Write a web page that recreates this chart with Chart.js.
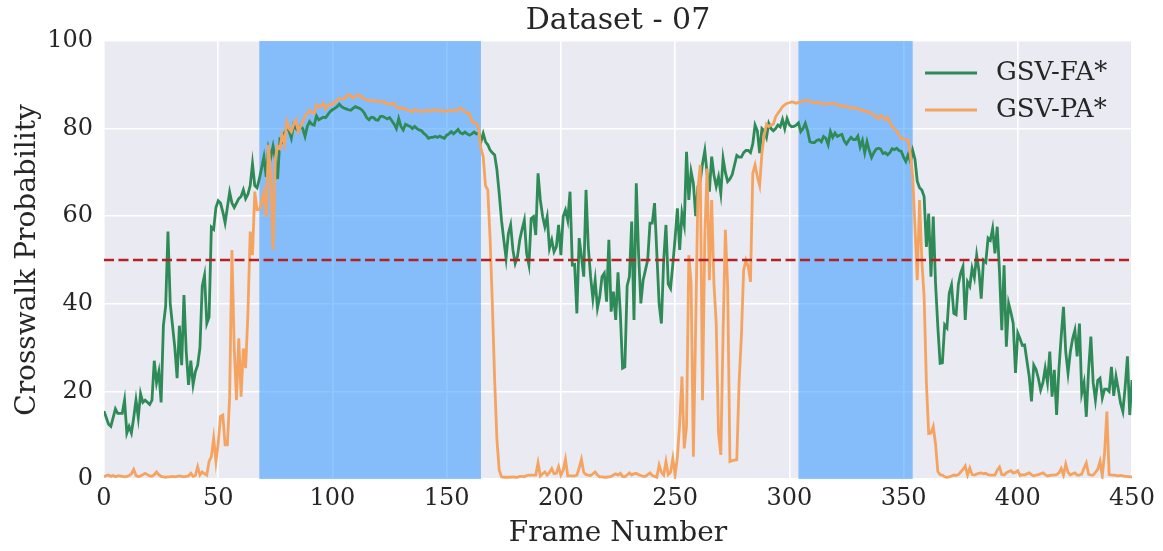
<!DOCTYPE html>
<html><head><meta charset="utf-8">
<script src="https://cdn.jsdelivr.net/npm/chart.js@4"></script>
<style>html,body{margin:0;padding:0;background:#fff;overflow:hidden;}</style>
</head><body>
<canvas id="c" width="1163" height="551"></canvas>
<script>
const chartTitle = 'Dataset - 07';
const xTitle = 'Frame Number';
const yTitle = 'Crosswalk Probability';
const seriesNames = ['GSV-FA*', 'GSV-PA*'];
const thresholdValue = 50;
const highlightSpans = [[68, 165], [304, 354]];

const gsvFA = [
15.5,14,12.5,12,14,16,15,15,15,18,
10.5,12,10.5,14,18,14,19.5,17.5,18,17.5,
17,18,27,22,24.5,17.5,35,39.5,56.5,40,
35,30,23,35,26,42,29,21.5,27,21.5,
24.5,26,30,44,46.5,35.5,37,57.5,57,62,
63.5,63,61,58.5,62,65.5,63,62,63,64,
64.5,66,64,65,67,72,67,66.5,68.5,71,
73.5,69,75.5,73.5,76,73,68.5,77.5,77,79,
80,79.5,77.8,80.8,80,79.5,80.5,80,78.2,80.5,
81.6,81,80.8,82.9,82,82.3,82.6,82.5,83.2,83.9,
84.3,84.6,85,85.6,85,84.7,84.5,84.3,84.2,84.6,
85,84.8,84.6,84.2,83.5,82.5,82,82.6,82.5,82,
81.9,82.8,82.8,82.5,82.2,82.5,81.8,81,80,82.3,
80.5,79.7,81,80.7,80.5,80,80.5,80,79.7,79.5,
78.9,78.5,77.8,78,78,78.2,78,78.3,78,77.8,
78.5,78.8,79.3,78.8,79.3,79.8,79,78.8,79.2,78.8,
78.5,78.8,79.2,78.8,79,77,78.9,77,76.3,75.1,
74.5,74,70.6,65.2,59.1,54.6,50.4,56,58,52.3,
49.2,50.8,54.6,57,59.1,51.5,48.9,59.5,59.9,55.7,
69.8,63.7,60,57.6,59.9,52.7,54.6,51.9,53,58,
51.1,59.9,61.4,59.1,65.6,48.9,49,37.8,55,50.8,
46.2,66,53,46.2,41.2,45.4,39,41.6,46.2,47,
40.5,54.6,38.2,42.8,36.3,47.2,38,25.3,25.6,44.1,
46.2,58.8,36.3,67.5,51.5,40.1,45.4,47.7,50,58.4,
58.4,63,51.5,40,35.5,50,58,44.5,43.5,49,
55,61.8,52.3,60.7,58,74.7,63.7,70.2,67.5,60,
66.8,68,72,75,69.8,65.6,73.6,69.4,66.8,69,
65.2,73.2,70,67.9,68.5,69.5,71.7,73.9,73.5,73.5,
74.5,75,75,74.5,76.5,80.8,79.5,74.4,80,79.5,
78,81.2,80,79.5,80,80.8,80.4,82.1,80,82.3,
80.9,80.4,80.5,80.8,81.3,79.3,80,81.2,79.5,77,
76.8,76.8,77.3,77.5,77,78.2,77.8,76.3,79.3,78,
79,78.2,78.5,78.7,77.2,76.5,77.3,78,77.5,77.5,
78.3,75.8,77.3,74.5,77,75,73.4,74.5,75.3,75.5,
75.3,74.3,74.5,74,74.5,75.4,75.2,75.5,75,74.8,
73.5,72.5,74,72.5,75,73,68,66.5,66,64.5,
53,60.6,46.2,59.9,44.7,34.8,26.4,26.5,35.2,34.5,
42.4,44.3,37.8,37.5,44.5,47,48.5,36.3,45,44,
48.1,46,51.1,47.5,41.2,50,49.5,55,54.5,57.2,
51.5,57.6,47.3,34,48.8,30.2,40.1,38,35.5,24.2,
33.3,32,30.5,30.6,27,23.4,17.7,26,25,23,
20.3,22,25.3,22,29.1,18.8,24.9,14.6,25,32.5,
39.3,29,24.2,29,32,34,28,35.5,19.6,22,
14.2,25,32.5,22,18,22.5,23,18.5,20.5,20.5,
20,25.6,19,23.4,20.5,17.3,15.4,21,28,14.6,
22.6];

const gsvPA = [
0.5,0.8,0.9,0.6,0.8,0.5,0.7,0.7,0.6,0.5,
0.6,0.8,1.2,2.2,0.8,0.5,0.7,1,1.3,1,
0.7,0.6,1,1.6,1,0.6,0.5,0.4,0.5,0.5,
0.6,0.5,0.6,0.7,0.6,0.5,0.6,0.7,1.3,0.6,
0.8,2.8,0.9,1.6,1.2,0.9,4,5.1,9.3,4,
8.2,14.3,14.6,7.8,7.8,18.8,52.3,30,18,32.1,
18.8,29.8,25.3,37.8,56.5,51.1,65.6,61.5,61.5,63,
65.5,59.9,76.3,69,52.3,73.2,76,75.5,78.5,76.5,
81.6,80,79.3,81,82,79.3,80.5,81.5,82.9,83.5,
84.2,83.6,83.5,85.4,85,85.2,85.8,84.5,85.3,85.5,
85.5,86,86.5,86.9,86.8,86.8,87.3,87.8,87.5,87,
87.3,87.5,87.7,87,86.8,86.6,86.4,86.5,86.3,86.3,
86.3,86.1,86.2,86,85.6,85.5,85.8,85.7,84.9,84.8,
84.5,84.7,84.4,84.3,84,83.8,84.4,84.2,84,83.9,
84.1,84,84.2,84,84.1,84.3,84.1,84.2,84,84,
84,84.2,84,84.1,84.3,84.2,84.7,84.3,83.8,83.5,
83.5,81.6,81.4,81.2,79.7,75.5,73.6,67,66,55,
40,22.6,9,2,0.5,0.4,0.4,0.4,0.4,0.5,
0.4,0.4,0.6,0.6,0.5,0.8,0.9,0.9,0.9,0.9,
3.7,0.7,1.2,1.6,0.9,1.5,2.4,1.2,1.3,2.8,
0.9,2,4.5,0.7,0.7,0.7,0.7,0.9,2.5,4.5,
1.5,1,0.9,0.8,1.2,1.6,0.9,0.5,0.5,0.4,
0.4,0.5,0.6,0.9,1.2,0.9,1.3,0.6,0.5,0.9,
1.4,0.9,1.2,1.3,1,0.8,0.6,0.6,1,1.4,
0.8,0.6,0.4,3.2,1.5,0.9,4,1,1.5,4.7,
0.9,5,12.7,23.4,7,12,51.1,44.7,5.1,34.8,
66,71.7,18,55.3,70.9,45.4,63.7,44.5,35.5,10.4,
5.5,33.3,56.9,43.9,4,4.2,4.3,4.4,21.9,32.5,
47.7,50,48.5,45,69.8,71.7,69,67,74.4,78.5,
81,80.5,80.8,81,82.7,83.5,84.2,85,85.4,85.8,
85.9,86.1,86,85.8,86,86.1,86.3,86.4,86.5,86.2,
86,85.9,86,85.8,85.9,85.7,85.6,85.7,85.8,85.6,
85.7,85.5,85.3,85,85.2,85.1,84.9,84.6,84.8,84.7,
84.5,84.3,84.3,84,83.9,83.7,83.5,83,82.8,82.3,
83,82.5,82,82.6,81.5,80.5,80,79.5,78.5,77.8,
77.7,77.5,77.5,74,69,57.6,45.4,63.7,50,41.6,
21.9,10.4,10.5,12,8,1.7,1,0.9,0.5,0.4,
0.5,0.7,0.9,0.8,1,1.6,2.2,3,0.9,2.5,
1,0.9,1.1,1.3,1.4,1.2,1.3,1,0.9,0.9,
0.9,2,2.7,1,0.9,1.4,1.7,1.9,1.4,1.5,
1.9,0.8,1,0.9,1.2,1.4,1,0.7,0.9,1,
1.2,1.4,1,0.7,0.8,0.9,0.9,1,1.4,2.4,
0.9,3.4,1.5,0.9,1.2,1.4,0.9,0.9,1.1,2.5,
3.7,1.1,0.9,0.9,1.5,2.2,4,0.7,6,15.4,
1,0.9,0.9,0.8,0.7,0.8,0.7,0.6,0.6,0.5,
0.5];

const FONT = "'DejaVu Serif', serif";
const TEXT = '#262626';
const GREEN = '#2E8B57';
const ORANGE = '#F4A460';
const toXY = arr => arr.map((v, i) => ({x: i, y: v}));

const bgPlugin = {
  id: 'bg',
  beforeDraw(chart) {
    const {ctx, chartArea: a} = chart;
    ctx.save();
    ctx.fillStyle = '#EAEAF2';
    ctx.fillRect(a.left, a.top, a.right - a.left, a.bottom - a.top);
    ctx.restore();
  },
  beforeDatasetsDraw(chart) {
    const {ctx, chartArea: a, scales: {x}} = chart;
    ctx.save();
    ctx.fillStyle = 'rgba(30,144,255,0.5)';
    highlightSpans.forEach(([s, e]) => {
      const x0 = x.getPixelForValue(s), x1 = x.getPixelForValue(e);
      ctx.fillRect(x0, a.top, x1 - x0, a.bottom - a.top);
    });
    ctx.restore();
  },
  afterDraw(chart) {
    const {ctx, chartArea: a} = chart;
    const colors = [GREEN, ORANGE];
    ctx.save();
    // title centred over the plot area
    ctx.font = '30px ' + FONT;
    ctx.textAlign = 'center';
    ctx.textBaseline = 'middle';
    ctx.fillStyle = TEXT;
    ctx.fillText(chartTitle, (a.left + a.right) / 2, 21);
    // legend inside the plot, top right
    ctx.font = '26px ' + FONT;
    ctx.textAlign = 'left';
    seriesNames.forEach((name, i) => {
      const y = a.top + 32 + i * 37;
      ctx.strokeStyle = colors[i];
      ctx.lineWidth = 3;
      ctx.beginPath();
      ctx.moveTo(a.right - 207, y);
      ctx.lineTo(a.right - 155, y);
      ctx.stroke();
      ctx.fillText(name, a.right - 136, y);
    });
    ctx.restore();
  }
};

new Chart(document.getElementById('c'), {
  type: 'line',
  data: {
    datasets: [
      {label: seriesNames[0], data: toXY(gsvFA), borderColor: GREEN, borderWidth: 2.8, pointRadius: 0, tension: 0, order: 2},
      {label: seriesNames[1], data: toXY(gsvPA), borderColor: ORANGE, borderWidth: 2.8, pointRadius: 0, tension: 0, order: 1},
      {label: 'threshold', data: [{x: 0, y: thresholdValue}, {x: 450, y: thresholdValue}], borderColor: '#B22222', borderWidth: 2.6, borderDash: [10, 4.5], pointRadius: 0, order: 0}
    ]
  },
  options: {
    responsive: false,
    animation: false,
    devicePixelRatio: 1,
    layout: {padding: {left: 0, right: 31, top: 41, bottom: 0}},
    plugins: {
      legend: {display: false},
      tooltip: {enabled: false},
      title: {display: false}
    },
    scales: {
      x: {
        type: 'linear', min: 0, max: 450,
        afterFit(s) { s.height = 72; },
        grid: {color: '#FFFFFF', lineWidth: 1.6, drawTicks: false},
        border: {display: false},
        ticks: {stepSize: 50, padding: 5, color: TEXT, font: {family: FONT, size: 24}},
        title: {display: true, text: xTitle, color: TEXT, font: {family: FONT, size: 28}, padding: {top: 0, bottom: 0}}
      },
      y: {
        min: 0, max: 100,
        afterFit(s) { s.width = 104; },
        grid: {color: '#FFFFFF', lineWidth: 1.6, drawTicks: false},
        border: {display: false},
        ticks: {stepSize: 20, padding: 11, color: TEXT, font: {family: FONT, size: 24}},
        title: {display: true, text: yTitle, color: TEXT, font: {family: FONT, size: 28}, padding: {top: 11, bottom: 0}}
      }
    }
  },
  plugins: [bgPlugin]
});
</script>
</body></html>
